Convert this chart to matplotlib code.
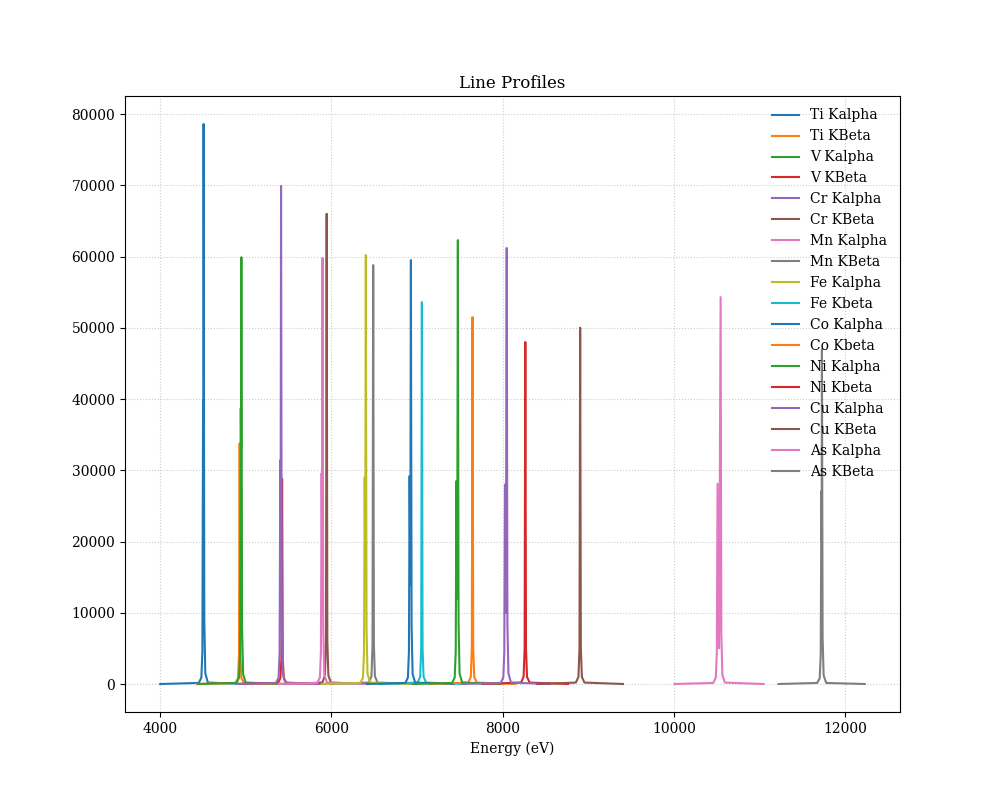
"""Line profiles of K-shell emission lines, Ti through As."""

import matplotlib
matplotlib.use("Agg")
import matplotlib.pyplot as plt

plt.rcParams["font.family"] = "DejaVu Serif"

labels = [
    "Ti Kalpha", "Ti KBeta", "V Kalpha", "V KBeta", "Cr Kalpha", "Cr KBeta",
    "Mn Kalpha", "Mn KBeta", "Fe Kalpha", "Fe Kbeta", "Co Kalpha", "Co Kbeta",
    "Ni Kalpha", "Ni Kbeta", "Cu Kalpha", "Cu KBeta", "As Kalpha", "As KBeta",
]

# energy samples (eV) for each profile
energies = [
    [4005, 4455, 4485, 4497, 4505, 4508, 4511, 4519, 4531, 4561, 5011],
    [4432, 4882, 4912, 4924, 4932, 4940, 4952, 4982, 5432],
    [4445, 4895, 4925, 4937, 4945, 4948, 4952, 4960, 4972, 5002, 5452],
    [4927, 5377, 5407, 5419, 5427, 5435, 5447, 5477, 5927],
    [4906, 5356, 5386, 5398, 5406, 5410, 5415, 5423, 5435, 5465, 5915],
    [5447, 5897, 5927, 5939, 5947, 5955, 5967, 5997, 6447],
    [5388, 5838, 5868, 5880, 5888, 5893, 5899, 5907, 5919, 5949, 6399],
    [5990, 6440, 6470, 6482, 6490, 6498, 6510, 6540, 6990],
    [5891, 6341, 6371, 6383, 6391, 6397, 6404, 6412, 6424, 6454, 6904],
    [6558, 7008, 7038, 7050, 7058, 7066, 7078, 7108, 7558],
    [6415, 6865, 6895, 6907, 6915, 6923, 6930, 6938, 6950, 6980, 7430],
    [7149, 7599, 7629, 7641, 7649, 7657, 7669, 7699, 8149],
    [6961, 7411, 7441, 7453, 7461, 7470, 7478, 7486, 7498, 7528, 7978],
    [7765, 8215, 8245, 8257, 8265, 8273, 8285, 8315, 8765],
    [7528, 7978, 8008, 8020, 8028, 8038, 8048, 8056, 8068, 8098, 8548],
    [8405, 8855, 8885, 8897, 8905, 8913, 8925, 8955, 9405],
    [10008, 10458, 10488, 10500, 10508, 10526, 10544, 10552, 10564, 10594, 11044],
    [11220, 11670, 11700, 11712, 11720, 11723, 11726, 11734, 11746, 11776, 12226],
]

# counts at those energies
counts = [
    [0, 150, 900, 4500, 39800, 30000, 78600, 9000, 1500, 200, 0],
    [0, 150, 800, 4000, 33800, 4000, 800, 150, 0],
    [0, 150, 900, 4500, 38700, 33000, 59900, 8000, 1400, 200, 0],
    [0, 150, 800, 3500, 28800, 3500, 800, 150, 0],
    [0, 150, 900, 4500, 31400, 24000, 69900, 8500, 1500, 200, 0],
    [0, 200, 1200, 6000, 66000, 6000, 1200, 200, 0],
    [0, 150, 900, 4500, 29600, 20000, 59800, 8000, 1400, 200, 0],
    [0, 200, 1100, 5500, 58800, 5500, 1100, 200, 0],
    [0, 150, 900, 4500, 29000, 17000, 60200, 8000, 1400, 200, 0],
    [0, 200, 1000, 5000, 53600, 5000, 1000, 200, 0],
    [0, 150, 900, 4500, 29200, 14000, 59500, 8000, 1400, 200, 0],
    [0, 200, 1000, 5000, 51500, 5000, 1000, 200, 0],
    [0, 150, 900, 4500, 28500, 12000, 62300, 8500, 1500, 200, 0],
    [0, 200, 1000, 5000, 48000, 5000, 1000, 200, 0],
    [0, 150, 900, 4500, 28000, 10000, 61200, 8500, 1500, 200, 0],
    [0, 200, 1000, 5000, 50000, 5000, 1000, 200, 0],
    [0, 150, 900, 4500, 28100, 5000, 54300, 7500, 1300, 200, 0],
    [0, 150, 800, 4000, 27100, 20000, 47000, 6500, 1200, 150, 0],
]


def main():
    fig, ax = plt.subplots(figsize=(10, 8), dpi=100)
    for x, y, name in zip(energies, counts, labels):
        ax.plot(x, y, label=name)
    ax.set_title("Line Profiles")
    ax.set_xlabel("Energy (eV)")
    ax.grid(ls=":", color="#cccccc", lw=0.8)
    ax.legend(frameon=False, loc="upper right")
    fig.savefig("out.png", dpi=100)


if __name__ == "__main__":
    main()
